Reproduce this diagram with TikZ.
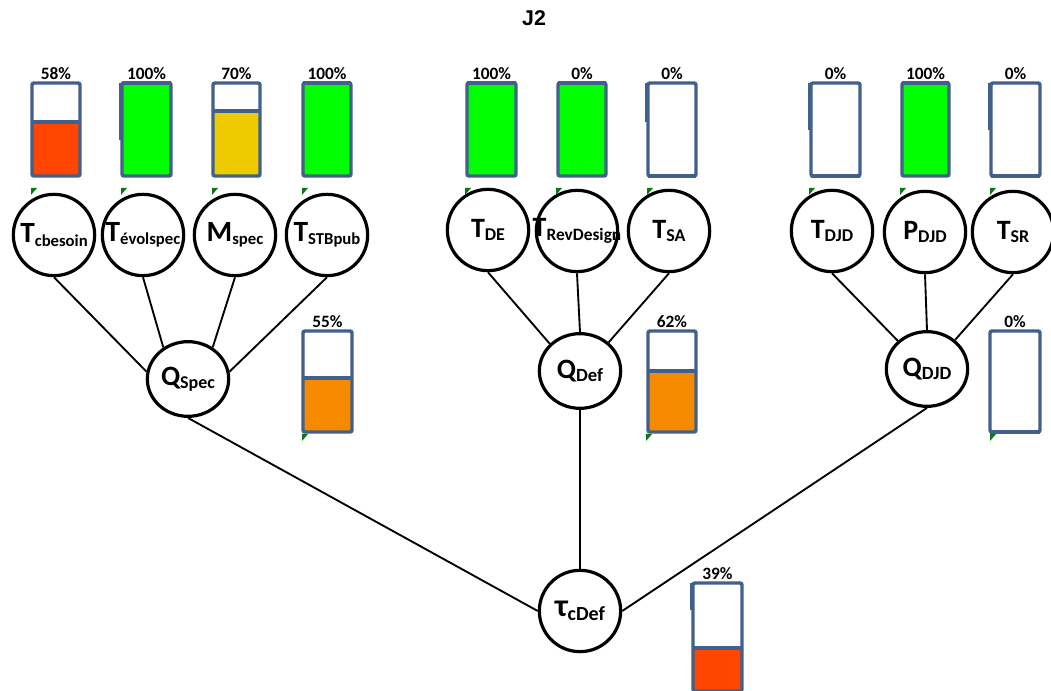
\documentclass[tikz,border=0pt]{standalone}
\usepackage{fontspec}
\setmainfont{Carlito}
\newfontfamily\titlefont{Liberation Sans}
\usetikzlibrary{shapes.geometric}

\definecolor{gaugeblue}{HTML}{41608C}
\definecolor{barred}{HTML}{FF4500}
\definecolor{bargreen}{HTML}{00FF00}
\definecolor{bargold}{HTML}{EDCB00}
\definecolor{barorange}{HTML}{F78B00}
\definecolor{markgreen}{HTML}{0A7A0A}

% node text: main letter with a lowered index
\newcommand{\sublbl}[4]{\makebox[0pt][c]{\fontsize{#1}{#1}\selectfont #3\raisebox{-2.5pt}{\fontsize{#2}{#2}\selectfont #4}}}
% gauge: left, right, top, bottom, level, colour, name, percent
\newcommand{\gauge}[8]{%
  \fill[#6] (#1,#5) rectangle (#2,#4);
  \draw[gaugeframe] (#1,#5) -- (#2,#5);
  \draw[gaugeframe] (#1,#3) rectangle (#2,#4);
  \node[pct] (#7) at ({(#1+#2)/2},#3-9) {#8\%};
}
\newcommand{\gmark}[2]{\fill[greenmark] (#1,#2) -- ++(6,0) -- ++(-6,7) -- cycle;}
\newcommand{\thickedge}[3]{\draw[gaugeframe,line width=2pt,rounded corners=0pt] (#1-2,#2) -- (#1-2,#3);}

\begin{document}
\begin{tikzpicture}[x=0.75pt,y=-0.75pt,
  leaf/.style={circle,draw,line width=2.4pt,minimum size=61pt,inner sep=0pt,font=\bfseries},
  qnode/.style={ellipse,draw,line width=2.4pt,minimum width=61pt,minimum height=56pt,inner sep=0pt,font=\bfseries},
  edge/.style={line width=1.4pt},
  gaugeframe/.style={draw=gaugeblue,line width=2.6pt,rounded corners=1.5pt},
  pct/.style={font=\bfseries\fontsize{13}{13}\selectfont,inner sep=0pt},
  greenmark/.style={fill=markgreen}
]
\useasboundingbox (0,0) rectangle (1051,691);
\clip (0,0) rectangle (1051,691);

\node[font=\titlefont\bfseries\fontsize{16}{16}\selectfont] (title) at (534,18) {J2};

% gauges
\gauge{32}{80}{83}{176}{122}{barred}{p1}{58}
\gauge{122}{171}{83}{176}{83}{bargreen}{p2}{100}
\gauge{213}{260}{83}{176}{111}{bargold}{p3}{70}
\gauge{303}{351}{83}{176}{83}{bargreen}{p4}{100}
\gauge{467}{516}{83}{176}{83}{bargreen}{p5}{100}
\gauge{558}{606}{83}{176}{83}{bargreen}{p6}{0}
\gauge{648}{696}{83}{176}{176}{white}{p7}{0}
\gauge{811}{860}{83}{176}{176}{white}{p8}{0}
\gauge{902}{949}{83}{176}{83}{bargreen}{p9}{100}
\gauge{991}{1040}{83}{176}{176}{white}{p10}{0}
\gauge{303}{352}{331}{432}{378}{barorange}{pspec}{55}
\gauge{648}{696}{331}{432}{371}{barorange}{pdef}{62}
\gauge{990}{1040}{331}{432}{432}{white}{pdjdq}{0}
\gauge{693}{742}{583}{691}{648}{barred}{ptau}{39}
\thickedge{122}{83}{140}
\thickedge{648}{83}{122}
\thickedge{811}{83}{130}
\thickedge{991}{83}{130}
\thickedge{693}{583}{610}

\gmark{31}{188} \gmark{121}{188} \gmark{212}{188} \gmark{302}{188}
\gmark{465}{188} \gmark{556}{188} \gmark{647}{188}
\gmark{809}{188} \gmark{900}{188} \gmark{990}{188}
\gmark{302}{434} \gmark{646}{434} \gmark{990}{434}

% task nodes
\node[leaf] (tcb) at (54,235) {\sublbl{22}{12.5}{T}{cbesoin}};
\node[leaf] (tev) at (143,235) {\sublbl{22}{12.5}{T}{évolspec}};
\node[leaf] (mspec) at (235,235) {\sublbl{22}{12.5}{M}{spec}};
\node[leaf] (tstb) at (327,235) {\sublbl{22}{12.5}{T}{STBpub}};
\node[leaf] (tde) at (488,230) {\sublbl{21}{13.5}{T}{DE}};
\node[leaf] (trev) at (577,231) {\sublbl{21}{13}{T}{RevDesign}};
\node[leaf] (tsa) at (669,231) {\sublbl{21}{13.5}{T}{SA}};
\node[leaf] (tdjd) at (832,231) {\sublbl{21}{13.5}{T}{DJD}};
\node[leaf] (pdjd) at (925,232) {\sublbl{21}{13.5}{P}{DJD}};
\node[leaf] (tsr) at (1013,232) {\sublbl{21}{13.5}{T}{SR}};

% quality nodes
\node[qnode] (qspec) at (188,379) {\sublbl{21}{13.5}{Q}{Spec}};
\node[qnode] (qdef) at (580,371) {\sublbl{21}{14}{Q}{Def}};
\node[qnode] (qdjd) at (927,369) {\sublbl{21}{14}{Q}{DJD}};
\node[leaf] (tau) at (580,611) {\sublbl{24}{15}{τ}{cDef}};

\draw[edge] (tcb.south) -- (qspec.170);
\draw[edge] (tev.south) -- (qspec.128);
\draw[edge] (mspec.south) -- (qspec.52);
\draw[edge] (tstb.south) -- (qspec.10);
\draw[edge] (tde.south) -- (qdef.138);
\draw[edge] (trev.south) -- (qdef.north);
\draw[edge] (tsa.south) -- (qdef.45);
\draw[edge] (tdjd.south) -- (qdjd.136);
\draw[edge] (pdjd.south) -- (qdjd.north);
\draw[edge] (tsr.south) -- (qdjd.46);
\draw[edge] (qspec.south) -- (tau.west);
\draw[edge] (qdef.south) -- (tau.north);
\draw[edge] (qdjd.south) -- (tau.east);
\end{tikzpicture}
\end{document}
